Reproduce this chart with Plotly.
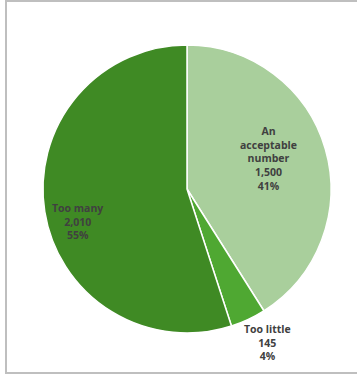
import plotly.graph_objects as go

# Survey responses
categories = ["An acceptable number", "Too little", "Too many"]
counts = [1500, 145, 2010]
colors = ["#a9cf9c", "#4fa832", "#3f8a24"]

# label anchor points (paper coords) for each slice's text
label_x = [268 / 357, 267 / 357, 77 / 357]
label_y = [1 - 159 / 375, 1 - 342 / 375, 1 - 221 / 375]

total = sum(counts)

fig = go.Figure(
    go.Pie(
        labels=categories,
        values=counts,
        sort=False,
        direction="clockwise",
        rotation=0,
        marker=dict(colors=colors, line=dict(color="white", width=1.5)),
        textinfo="none",
        hoverinfo="label+value+percent",
        showlegend=False,
        domain=dict(x=[43 / 357, 331 / 357], y=[1 - 333 / 375, 1 - 45 / 375]),
    )
)

annotations = []
for name, val, x, y in zip(categories, counts, label_x, label_y):
    words = name.split(" ")
    if name == "An acceptable number":
        head = "<br>".join(words)
    else:
        head = name
    pct = round(100 * val / total)
    annotations.append(
        dict(
            x=x,
            y=y,
            xref="paper",
            yref="paper",
            text=f"<b>{head}<br>{val:,}<br>{pct}%</b>",
            showarrow=False,
            font=dict(family="Open Sans, sans-serif", size=10.5, color="#404040"),
            align="center",
            xanchor="center",
            yanchor="middle",
        )
    )

fig.update_layout(
    width=357,
    height=375,
    margin=dict(l=0, r=0, t=0, b=0),
    paper_bgcolor="white",
    plot_bgcolor="white",
    annotations=annotations,
    shapes=[
        dict(
            type="rect",
            xref="paper",
            yref="paper",
            x0=6 / 357,
            x1=1.05,
            y0=1 - 373 / 375,
            y1=1 - 1 / 375,
            line=dict(color="#bfbfbf", width=2),
            fillcolor="rgba(0,0,0,0)",
        )
    ],
)

fig.write_html("out.html")
